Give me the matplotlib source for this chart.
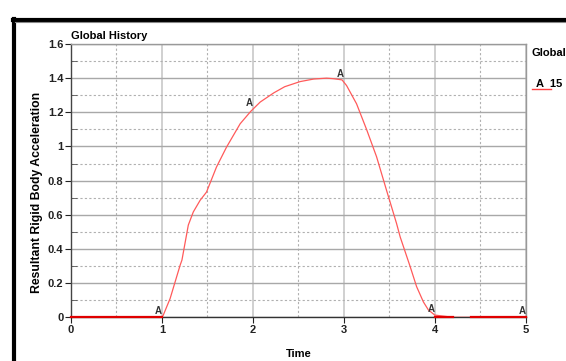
import matplotlib
matplotlib.use("Agg")
import matplotlib.pyplot as plt
from matplotlib.lines import Line2D
from matplotlib.ticker import MultipleLocator
from matplotlib import font_manager

names = {f.name for f in font_manager.fontManager.ttflist}
fam = ["Liberation Sans Narrow", "Liberation Sans", "DejaVu Sans"]
fam = [f for f in fam if f in names] or ["DejaVu Sans"]
plt.rcParams['font.family'] = fam

time = [0.0, 0.5, 1.0, 1.015, 1.09, 1.2, 1.22, 1.29, 1.345, 1.42, 1.49, 1.60, 1.71, 1.86,
        1.977, 2.08, 2.23, 2.35, 2.52, 2.67, 2.81, 2.885, 2.98, 3.03, 3.14, 3.25, 3.36,
        3.47, 3.58, 3.62, 3.73, 3.80, 3.875, 3.93, 4.0, 4.2, 4.5, 5.0]
accel = [0.0, 0.0, 0.0, 0.013, 0.11, 0.305, 0.335, 0.54, 0.617, 0.685, 0.733, 0.88, 0.996, 1.133,
         1.206, 1.26, 1.314, 1.35, 1.38, 1.395, 1.40, 1.397, 1.39, 1.357, 1.25, 1.10, 0.94,
         0.743, 0.549, 0.47, 0.296, 0.18, 0.09, 0.043, 0.013, 0.0, 0.0, 0.0]
marker_t = [1.0, 2.0, 3.0, 4.0, 5.0]
marker_v = [0.0, 1.215, 1.385, 0.013, 0.0]

fig = plt.figure(figsize=(5.66, 3.61), dpi=100)
ax = fig.add_axes([71/566, 1-317.3/361, (525.7-71)/566, (317.3-44)/361])

ax.set_xlim(0, 5)
ax.set_ylim(0, 1.6)
ax.xaxis.set_major_locator(MultipleLocator(1))
ax.xaxis.set_minor_locator(MultipleLocator(0.5))
ax.yaxis.set_major_locator(MultipleLocator(0.2))
ax.yaxis.set_minor_locator(MultipleLocator(0.1))
ax.grid(which='major', axis='x', color='#c8c8c8', lw=1.2, ls='-')
ax.grid(which='major', axis='y', color='#a8a8a8', lw=1.0, ls='-')
ax.grid(which='minor', color='#b0b0b0', lw=0.8, ls=(0, (2, 2)))
ax.set_axisbelow(True)

ax.plot(time, accel, color='#ff5a5a', lw=0.9, zorder=3)
ax.plot([0, 1.0], [0, 0], color='#e00000', lw=1.6, zorder=4, clip_on=False)
ax.plot([4.0, 4.2], [0, 0], color='#e00000', lw=1.6, zorder=4, clip_on=False)
ax.plot([4.4, 5.0], [0, 0], color='#e00000', lw=1.6, zorder=4, clip_on=False)
for t, v in zip(marker_t, marker_v):
    ax.annotate('A', (t, v), xytext=(-2.5, 1), textcoords='offset points',
                ha='center', va='bottom', fontsize=7, fontweight='bold', color='#333333', zorder=5)

ax.spines['left'].set_color('#444444')
ax.spines['bottom'].set_color('#333333')
ax.spines['top'].set_color('#999999')
ax.spines['right'].set_color('#999999')
for s in ax.spines.values():
    s.set_linewidth(1.0)

ax.tick_params(axis='both', which='major', direction='out', length=4, width=0.8,
               labelsize=8, pad=1.5, colors='#222222')
ax.tick_params(axis='both', which='minor', length=0)
ax.tick_params(axis='y', which='minor', direction='in', length=4, width=0.6, colors='#555555')
ax.set_xticks([0, 1, 2, 3, 4, 5])
ax.set_xticklabels(['0', '1', '2', '3', '4', '5'], fontweight='bold')
ax.set_yticks([0, 0.2, 0.4, 0.6, 0.8, 1.0, 1.2, 1.4, 1.6])
ax.set_yticklabels(['0', '0.2', '0.4', '0.6', '0.8', '1', '1.2', '1.4', '1.6'], fontweight='bold')

ax.set_xlabel('Time', fontsize=8, fontweight='bold', labelpad=10)
ax.set_ylabel('Resultant Rigid Body Acceleration', fontsize=8.8, fontweight='bold')
ax.yaxis.set_label_coords(-0.062, 0.458)
ax.text(0.0, 1.01, 'Global History', transform=ax.transAxes, fontsize=8, fontweight='bold',
        ha='left', va='bottom')

fig.text(532/566, 1-53/361, 'Global', fontsize=8, fontweight='bold', ha='left', va='center')
fig.text(536/566, 1-84/361, 'A  15', fontsize=8, fontweight='bold', ha='left', va='center')
fig.add_artist(Line2D([532/566, 551/566], [1-89/361, 1-89/361], color='#ff4040', lw=1.0))

# window frame
fig.add_artist(Line2D([14/566, 14/566], [0, 1-19/361], color='black', lw=3.0))
fig.add_artist(Line2D([13/566, 1], [1-19.5/361, 1-19.5/361], color='black', lw=3.0))
fig.add_artist(Line2D([15/566, 1], [1-22/361, 1-22/361], color='#888888', lw=0.8))

fig.savefig('out.png', dpi=100)
